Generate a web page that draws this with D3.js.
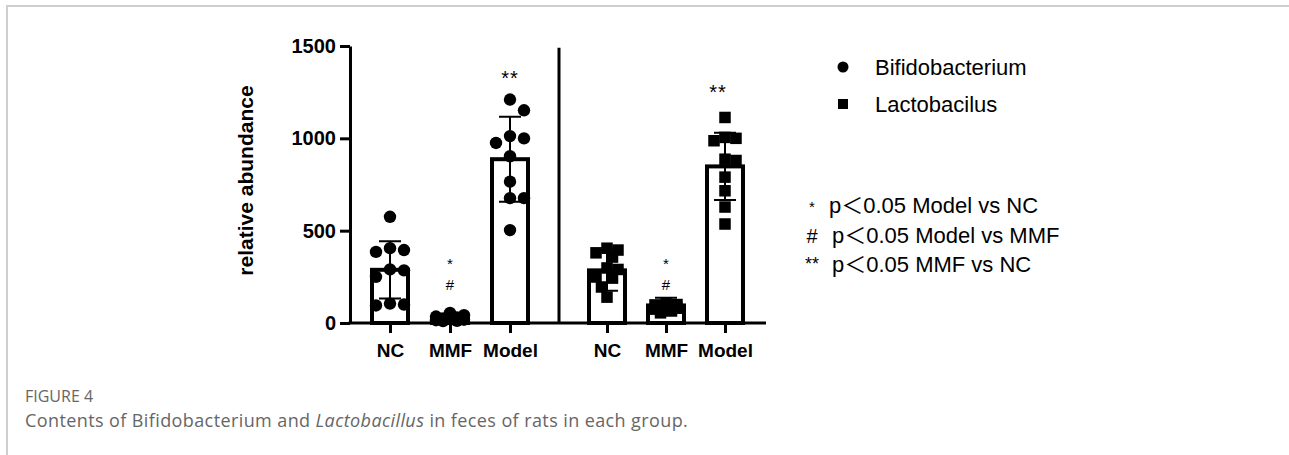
<!DOCTYPE html>
<html>
<head>
<meta charset="utf-8">
<script src="https://cdn.jsdelivr.net/npm/d3@7"></script>
<style>
  body { margin: 0; background: #fff; }
  svg { display: block; }
</style>
</head>
<body>
<div id="chart"></div>
<script>
// values
const groups = ["NC", "MMF", "Model"];
const seriesNames = ["Bifidobacterium", "Lactobacilus"];

const bifValues = [
    [575, 405, 395, 385, 290, 285, 250, 105, 100, 95],
    [55, 42, 35, 30, 25, 22, 18, 15, 12, 10],
    [1210, 1152, 1012, 1000, 975, 903, 765, 676, 676, 503]
];
const bifMeans = [288, 25, 887];
const bifSDs = [155, 15, 230];

const lacValues = [
    [405, 395, 380, 357, 298, 290, 249, 243, 195, 140],
    [105, 100, 98, 95, 90, 85, 80, 75, 65, 55],
    [1113, 1005, 1000, 987, 887, 880, 790, 716, 628, 536]
];
const lacMeans = [285, 95, 848];
const lacSDs = [110, 42, 182];

const yTicks = [0, 500, 1000, 1500];

// significance marks above bars
const annoPanel = [0, 0, 0, 1, 1, 1];
const annoGroup = ["MMF", "MMF", "Model", "MMF", "MMF", "Model"];
const annoText = ["*", "#", "**", "*", "#", "**"];
const annoValue = [294, 178, 1290, 294, 178, 1214];

const pNoteSymbols = ["*", "#", "**"];
const pNoteTexts = ["p\uFF1C0.05 Model vs NC", "p\uFF1C0.05 Model vs MMF", "p\uFF1C0.05 MMF vs NC"];

const width = 1289, height = 455;
const font = "'Liberation Sans', Arial, 'Noto Sans CJK SC', sans-serif";

const svg = d3.select("#chart").append("svg")
    .attr("width", width)
    .attr("height", height);

// page frame (grey border top + left)
svg.append("path")
    .attr("d", `M7,${height} V6 H${width}`)
    .attr("fill", "none")
    .attr("stroke", "#cfcfcf")
    .attr("stroke-width", 2);

const y = d3.scaleLinear().domain([0, 1500]).range([323, 46]);
const xPanels = [
    d3.scalePoint().domain(groups).range([390, 510]),
    d3.scalePoint().domain(groups).range([607, 725])
];
const axisLeftX = 350, separatorX = 559, axisRightX = 766;

// y axis
const yAxis = svg.append("g")
    .attr("transform", `translate(${axisLeftX},0)`)
    .call(d3.axisLeft(y).tickValues(yTicks).tickFormat(d3.format("d"))
        .tickSize(10).tickSizeOuter(0).tickPadding(4));
yAxis.select(".domain").attr("stroke", "#000").attr("stroke-width", 3);
yAxis.selectAll(".tick line").attr("stroke", "#000").attr("stroke-width", 3);
yAxis.selectAll(".tick text")
    .attr("font-family", font)
    .attr("font-weight", "bold")
    .attr("font-size", "20px")
    .attr("fill", "#000");

svg.append("text")
    .attr("transform", `translate(253,${(y(0) + y(1500)) / 2 - 4}) rotate(-90)`)
    .attr("text-anchor", "middle")
    .attr("font-family", font)
    .attr("font-weight", "bold")
    .attr("font-size", "21px")
    .text("relative abundance");

// separator between the two series
svg.append("line")
    .attr("x1", separatorX).attr("x2", separatorX)
    .attr("y1", y(1490)).attr("y2", y(0))
    .attr("stroke", "#000").attr("stroke-width", 3);

// x axis line
svg.append("line")
    .attr("x1", axisLeftX - 1.5).attr("x2", axisRightX)
    .attr("y1", y(0)).attr("y2", y(0))
    .attr("stroke", "#000").attr("stroke-width", 3);

xPanels.forEach(x => {
    const g = svg.append("g")
        .attr("transform", `translate(0,${y(0)})`)
        .call(d3.axisBottom(x).tickSize(10).tickSizeOuter(0).tickPadding(11));
    g.select(".domain").remove();
    g.selectAll(".tick line").attr("stroke", "#000").attr("stroke-width", 3);
    g.selectAll(".tick text")
        .attr("font-family", font)
        .attr("font-weight", "bold")
        .attr("font-size", "19px")
        .attr("fill", "#000");
});

// simple beeswarm: spread points sideways when they collide
function swarm(vals, cx, minDist, step) {
    const cands = [0, step, -step, step / 2, -step / 2];
    const placed = [];
    vals.forEach(v => {
        const py = y(v);
        let best = 0, bestD = -1;
        for (const off of cands) {
            let d = Infinity;
            placed.forEach(p => { d = Math.min(d, Math.hypot(p.x - (cx + off), p.y - py)); });
            if (d >= minDist) { best = off; bestD = Infinity; break; }
            if (d > bestD) { bestD = d; best = off; }
        }
        placed.push({ x: cx + best, y: py, v: v });
    });
    return placed;
}

const panels = [
    { values: bifValues, means: bifMeans, sds: bifSDs, shape: "circle" },
    { values: lacValues, means: lacMeans, sds: lacSDs, shape: "square" }
];

const barWidth = 36, capWidth = 22;

panels.forEach((p, pi) => {
    const x = xPanels[pi];
    const g = svg.append("g");

    // bars
    g.selectAll("rect.bar")
        .data(groups)
        .join("rect")
        .attr("class", "bar")
        .attr("x", d => x(d) - barWidth / 2)
        .attr("y", (d, i) => y(p.means[i]))
        .attr("width", barWidth)
        .attr("height", (d, i) => y(0) - y(p.means[i]))
        .attr("fill", "#fff")
        .attr("stroke", "#000")
        .attr("stroke-width", 4);

    // error bars
    groups.forEach((grp, i) => {
        const cx = x(grp);
        const top = y(p.means[i] + p.sds[i]);
        const bot = y(Math.max(0, p.means[i] - p.sds[i]));
        g.append("path")
            .attr("d", `M${cx},${top}V${bot}M${cx - capWidth / 2},${top}H${cx + capWidth / 2}M${cx - capWidth / 2},${bot}H${cx + capWidth / 2}`)
            .attr("fill", "none")
            .attr("stroke", "#000")
            .attr("stroke-width", 2);
    });

    // individual points
    groups.forEach((grp, i) => {
        const cx = x(grp);
        if (p.shape === "circle") {
            const pts = swarm(p.values[i], cx, 12, 14);
            g.selectAll(null).data(pts).join("circle")
                .attr("cx", d => d.x).attr("cy", d => d.y)
                .attr("r", 6.2).attr("fill", "#000");
        } else {
            const s = 11.5;
            const pts = swarm(p.values[i], cx, 11, 11);
            g.selectAll(null).data(pts).join("rect")
                .attr("x", d => d.x - s / 2).attr("y", d => d.y - s / 2)
                .attr("width", s).attr("height", s).attr("fill", "#000");
        }
    });
});

// significance marks
annoText.forEach((t, i) => {
    const x = xPanels[annoPanel[i]];
    svg.append("text")
        .attr("x", x(annoGroup[i]) + (t === "**" && annoPanel[i] === 1 ? -7 : 0))
        .attr("y", y(annoValue[i]))
        .attr("text-anchor", "middle")
        .attr("font-family", font)
        .attr("font-size", t === "**" ? "20px" : "15px")
        .attr("letter-spacing", t === "**" ? "1px" : null)
        .attr("fill", "#000")
        .text(t);
});

// legend
const legend = svg.append("g").attr("transform", "translate(843,0)");
seriesNames.forEach((name, i) => {
    const ly = 67 + i * 37;
    if (i === 0) {
        legend.append("circle").attr("cx", 0).attr("cy", ly).attr("r", 5.5).attr("fill", "#000");
    } else {
        legend.append("rect").attr("x", -5).attr("y", ly - 5).attr("width", 10).attr("height", 10).attr("fill", "#000");
    }
    legend.append("text")
        .attr("x", 32).attr("y", ly + 7.5)
        .attr("font-family", font)
        .attr("font-size", "22px")
        .attr("fill", "#000")
        .text(name);
});

// p-value notes
const notes = svg.append("g");
pNoteTexts.forEach((t, i) => {
    const ny = 213 + i * 29.5;
    notes.append("text")
        .attr("x", 812).attr("y", ny + (i === 0 ? -1 : i === 2 ? -2 : 0))
        .attr("text-anchor", "middle")
        .attr("font-family", font)
        .attr("font-size", i === 0 ? "15px" : i === 1 ? "20px" : "18px")
        .attr("fill", "#000")
        .text(pNoteSymbols[i]);
    notes.append("text")
        .attr("x", 829 + (i > 0 ? 3 : 0)).attr("y", ny)
        .attr("font-family", font)
        .attr("font-size", "22px")
        .attr("fill", "#000")
        .text(t);
});

// caption
svg.append("text")
    .attr("x", 25).attr("y", 402)
    .attr("font-family", "'Open Sans', 'Noto Sans', sans-serif")
    .attr("font-size", "16px")
    .attr("fill", "#666")
    .text("FIGURE 4");

const cap = svg.append("text")
    .attr("x", 25).attr("y", 427)
    .attr("font-family", "'Open Sans', 'Noto Sans', sans-serif")
    .attr("font-size", "18px")
    .attr("letter-spacing", "0.4px")
    .attr("fill", "#666");
cap.append("tspan").text("Contents of Bifidobacterium and ");
cap.append("tspan").attr("font-style", "italic").text("Lactobacillus");
cap.append("tspan").text(" in feces of rats in each group.");
</script>
</body>
</html>
